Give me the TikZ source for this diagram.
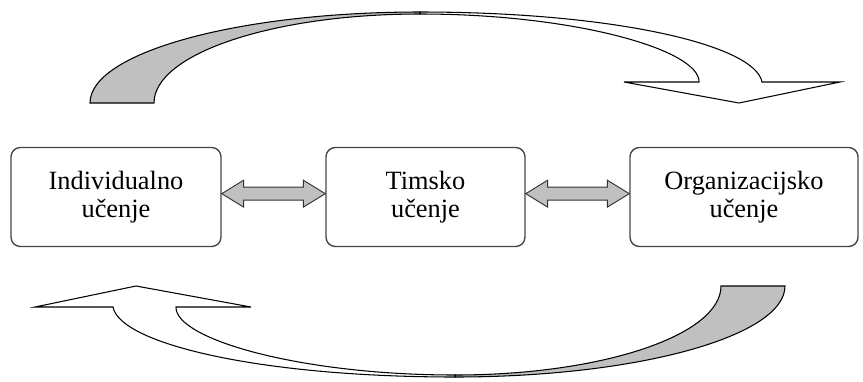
\documentclass[tikz,border=0pt]{standalone}
\usepackage{fontspec}
\setmainfont{Liberation Serif}
\usetikzlibrary{calc}

\definecolor{arrowgray}{RGB}{192,192,192}
\definecolor{boxedge}{RGB}{70,70,70}

\tikzset{
  learnbox/.style={draw=boxedge, line width=1.2pt, rounded corners=8pt,
    minimum height=2.97cm, align=center, font=\fontsize{22.5}{23.5}\selectfont},
  blockarrow/.style={draw=black!80, line width=0.8pt, fill=arrowgray},
  ribbon/.style={draw=black, line width=0.9pt}
}

\newcommand{\loopribbon}{%
  \draw[ribbon, fill=arrowgray] (90,103) .. controls (90,52.7) and (237.7,12) .. (420,12)
    -- (420,14) .. controls (273,14) and (154,53.8) .. (154,103) -- cycle;
  \draw[ribbon, fill=white] (420,12) .. controls (614,12) and (755,45) .. (762,82)
    -- (840,82) -- (739,103) -- (624,82) -- (699,82)
    .. controls (700,50) and (575,14) .. (420,14) -- cycle;
}

\begin{document}
\begin{tikzpicture}[x=0.03cm, y=-0.03cm]
          \useasboundingbox (0,0) rectangle (863,381);
          \node[learnbox, minimum width=6.3cm] (ind) at (116,197) {Individualno\\učenje};
          \node[learnbox, minimum width=5.97cm] (tim) at (425.5,197) {Timsko\\učenje};
          \node[learnbox, minimum width=6.84cm] (org) at (744,197) {Organizacijsko\\učenje};
          \draw[blockarrow] ([yshift=1mm]ind.east) -- ++(22,-13.5) -- ++(0,7)
            -- ($([yshift=1mm]tim.west)+(-22,-6.5)$) -- ++(0,-7) -- ([yshift=1mm]tim.west)
            -- ++(-22,13.5) -- ++(0,-7) -- ($([yshift=1mm]ind.east)+(22,6.5)$) -- ++(0,7) -- cycle;
          \draw[blockarrow] ([yshift=1mm]tim.east) -- ++(22,-13.5) -- ++(0,7)
            -- ($([yshift=1mm]org.west)+(-22,-6.5)$) -- ++(0,-7) -- ([yshift=1mm]org.west)
            -- ++(-22,13.5) -- ++(0,-7) -- ($([yshift=1mm]tim.east)+(22,6.5)$) -- ++(0,7) -- cycle;
          \loopribbon
          \begin{scope}[rotate around={180:(437.5,194.5)}]
            \loopribbon
          \end{scope}
    \end{tikzpicture}
\end{document}
